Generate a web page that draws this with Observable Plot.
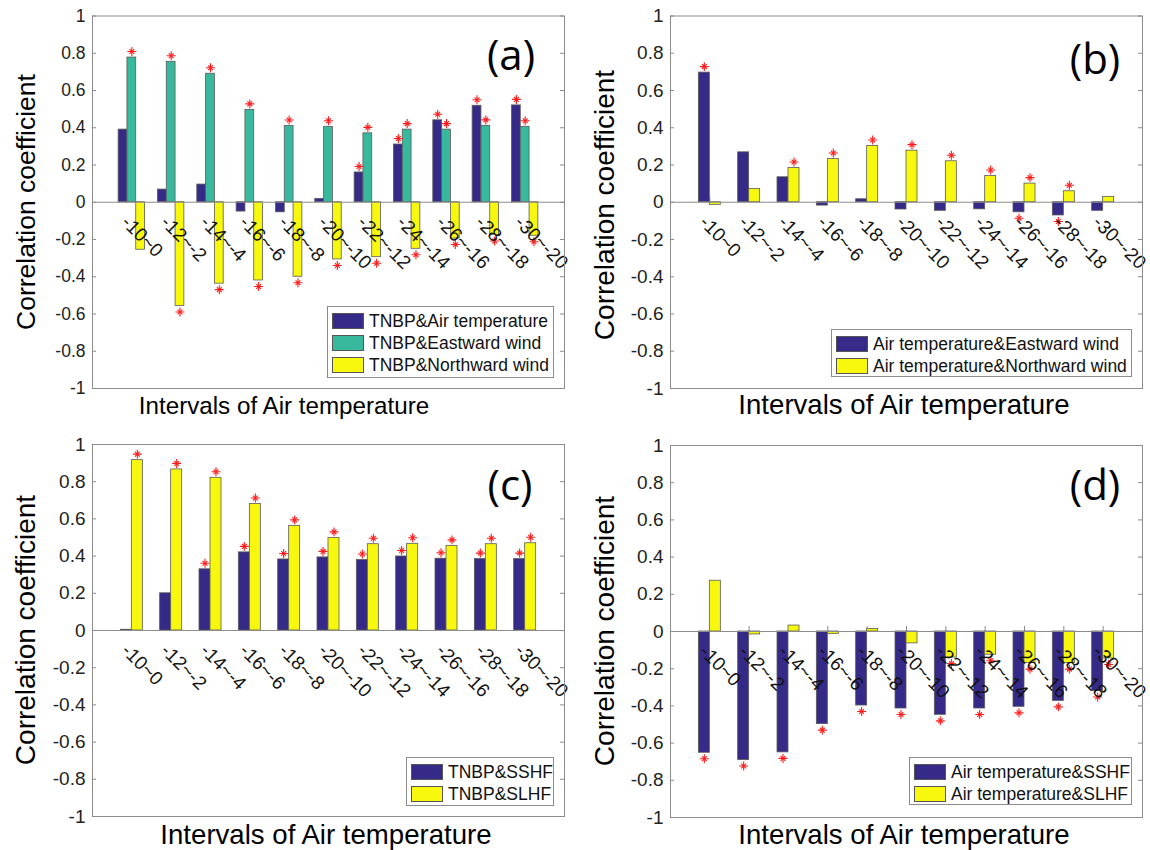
<!DOCTYPE html>
<html><head><meta charset="utf-8">
<script src="https://cdn.jsdelivr.net/npm/d3@7"></script>
<script src="https://cdn.jsdelivr.net/npm/@observablehq/plot@0.6"></script>
<style>
body{margin:0;background:#fff;font-family:"Liberation Sans",Arial,Helvetica,sans-serif;}
#wrap{position:relative;width:1150px;height:850px;overflow:hidden;background:#fff;}
.panel{position:absolute;}
.lbl{position:absolute;white-space:nowrap;color:#000;line-height:1;}
.legend{position:absolute;border:1px solid #8c8c8c;background:#fff;box-sizing:border-box;padding:3px 0 0 4px;}
.row{display:flex;align-items:center;height:22px;}
.sw{width:32px;height:16px;border:1px solid #555;box-sizing:border-box;flex:none;}
.lt{margin-left:5px;font-size:17.5px;color:#111;white-space:nowrap;}
.letter{position:absolute;font-family:"Open Sans","Liberation Sans",sans-serif;font-size:42px;color:#000;line-height:1;}
</style></head><body><div id="wrap"></div>
<script>
// ---- data ----
const intervals = ["-10~0","-12~-2","-14~-4","-16~-6","-18~-8","-20~-10","-22~-12","-24~-14","-26~-16","-28~-18","-30~-20"];
const yTicks = [-1,-0.8,-0.6,-0.4,-0.2,0,0.2,0.4,0.6,0.8,1];

// (a)
const aNames = ["TNBP&Air temperature","TNBP&Eastward wind","TNBP&Northward wind"];
const aAirTemp   = [0.39, 0.068, 0.095, -0.05, -0.054, 0.018, 0.16, 0.31, 0.44, 0.518, 0.52];
const aEastward  = [0.777, 0.754, 0.69, 0.496, 0.409, 0.405, 0.37, 0.39, 0.39, 0.41, 0.405];
const aNorthward = [-0.255, -0.557, -0.437, -0.42, -0.40, -0.307, -0.295, -0.25, -0.195, -0.176, -0.18];
const aSigAirTemp   = [0,0,0,0,0,0,1,1,1,1,1];
const aSigEastward  = [1,1,1,1,1,1,1,1,1,1,1];
const aSigNorthward = [0,1,1,1,1,1,1,1,1,1,1];

// (b)
const bNames = ["Air temperature&Eastward wind","Air temperature&Northward wind"];
const bEastward  = [0.696, 0.268, 0.134, -0.018, 0.016, -0.039, -0.046, -0.038, -0.054, -0.071, -0.046];
const bNorthward = [-0.014, 0.071, 0.184, 0.232, 0.302, 0.277, 0.22, 0.141, 0.1, 0.059, 0.029];
const bSigEastward  = [1,0,0,0,0,0,0,0,1,1,0];
const bSigNorthward = [0,0,1,1,1,1,1,1,1,1,0];

// (c)
const cNames = ["TNBP&SSHF","TNBP&SLHF"];
const cSSHF = [0.004, 0.2, 0.329, 0.42, 0.382, 0.393, 0.379, 0.398, 0.386, 0.384, 0.384];
const cSLHF = [0.916, 0.866, 0.821, 0.68, 0.5625, 0.498, 0.464, 0.466, 0.455, 0.464, 0.469];
const cSigSSHF = [0,0,1,1,1,1,1,1,1,1,1];
const cSigSLHF = [1,1,1,1,1,1,1,1,1,1,1];

// (d)
const dNames = ["Air temperature&SSHF","Air temperature&SLHF"];
const dSSHF = [-0.652, -0.691, -0.65, -0.498, -0.398, -0.414, -0.448, -0.414, -0.405, -0.373, -0.32];
const dSLHF = [0.273, -0.016, 0.032, -0.0125, 0.014, -0.064, -0.14, -0.125, -0.17, -0.17, -0.145];
const dSigSSHF = [1,1,1,1,1,1,1,1,1,1,1];
const dSigSLHF = [0,0,0,0,0,0,1,1,1,1,1];

const navy = "#352A87", teal = "#38B99E", yellow = "#F7F80E";
const axisGray = "#8c8c8c";
const FONT = "Liberation Sans, Arial, Helvetica, sans-serif";

const wrap = document.getElementById("wrap");

function makePanel(cfg) {
  const W = 575, H = 425;
  const {values, sigs, colors, ml, mr, mt, mb, yFont, xFont} = cfg;
  const plotW = W - ml - mr;
  const step = plotW / 12;
  const n = values.length;
  const bw = n === 3 ? 8.8 : 11;
  const inset = (step - bw) / 2;
  const rows = intervals.map((c, i) => {
    const r = {cat: c};
    values.forEach((v, j) => { r["v" + j] = v[i]; r["s" + j] = sigs[j][i]; });
    return r;
  });
  const marks = [
    Plot.ruleY(yTicks, {stroke: axisGray, insetRight: plotW - 4}),
    Plot.ruleY(yTicks, {stroke: axisGray, insetLeft: plotW - 4}),
    Plot.axisY({ticks: yTicks, tickSize: 0, tickPadding: 7, label: null,
      tickFormat: d => String(Math.round(d * 10) / 10), fontSize: yFont, fill: "#222"}),
    Plot.ruleX(intervals, {x: d => d, y1: () => 0, y2: () => 0, insetBottom: 5, stroke: axisGray})
  ];
  values.forEach((v, j) => {
    const off = (j - (n - 1) / 2) * bw;
    marks.push(Plot.barY(rows, {x: "cat", y: "v" + j, fill: colors[j], stroke: "#5a5a5a",
      strokeWidth: 0.8, insetLeft: inset, insetRight: inset, dx: off}));
  });
  marks.push(Plot.ruleY([0], {stroke: axisGray}));
  values.forEach((v, j) => {
    const off = (j - (n - 1) / 2) * bw;
    const pos = rows.filter(r => r["s" + j] && r["v" + j] >= 0);
    const neg = rows.filter(r => r["s" + j] && r["v" + j] < 0);
    for (const [dat, dy] of [[pos, -6], [neg, 6]]) {
      marks.push(Plot.dot(dat, {x: "cat", y: "v" + j, dx: off, dy, symbol: "plus", r: 3, stroke: "#ff1a1a", strokeWidth: 1.1}));
      marks.push(Plot.dot(dat, {x: "cat", y: "v" + j, dx: off, dy, symbol: "times", r: 2.3, stroke: "#ff1a1a", strokeWidth: 1.1}));
    }
  });
  marks.push(Plot.text(intervals, {x: d => d, y: () => 0, text: d => d, rotate: 45, textAnchor: "start",
    dx: -7, dy: 17, fontSize: xFont, fill: "#111", fontFamily: FONT}));
  marks.push(Plot.frame({stroke: axisGray}));
  const svg = Plot.plot({
    width: W, height: H,
    marginLeft: ml, marginRight: mr, marginTop: mt, marginBottom: mb,
    style: {fontFamily: FONT, background: "transparent", overflow: "visible"},
    x: {type: "band", domain: intervals, paddingInner: 0, paddingOuter: 0.5, round: false, axis: null},
    y: {domain: [-1, 1], axis: null},
    marks
  });
  const holder = document.createElement("div");
  holder.className = "panel";
  holder.style.left = cfg.left + "px";
  holder.style.top = cfg.top + "px";
  holder.appendChild(svg);
  wrap.appendChild(holder);
}

function addLabel(text, style) {
  const d = document.createElement("div");
  d.className = "lbl";
  d.textContent = text;
  Object.assign(d.style, style);
  wrap.appendChild(d);
  return d;
}

function addLegend(names, colors, box) {
  const d = document.createElement("div");
  d.className = "legend";
  Object.assign(d.style, {left: box[0] + "px", top: box[1] + "px", width: box[2] + "px", height: box[3] + "px"});
  names.forEach((nm, i) => {
    const r = document.createElement("div");
    r.className = "row";
    const s = document.createElement("div");
    s.className = "sw"; s.style.background = colors[i];
    const t = document.createElement("div");
    t.className = "lt"; t.textContent = nm;
    r.appendChild(s); r.appendChild(t);
    d.appendChild(r);
  });
  wrap.appendChild(d);
}

function addYLabel(cx, cy, size) {
  addLabel("Correlation coefficient", {left: cx + "px", top: cy + "px", fontSize: size + "px",
    transform: "translate(-50%,-50%) rotate(-90deg)"});
}
function addXLabel(cx, baseline, size) {
  addLabel("Intervals of Air temperature", {left: cx + "px", top: (baseline - 0.8 * size) + "px", fontSize: size + "px",
    transform: "translateX(-50%)"});
}
function addLetter(t, cx, baseline) {
  const d = document.createElement("div");
  d.className = "letter"; d.textContent = t;
  Object.assign(d.style, {left: cx + "px", top: (baseline - 0.8 * 42) + "px", transform: "translateX(-50%)"});
  wrap.appendChild(d);
}

// panels
makePanel({values: [aAirTemp, aEastward, aNorthward], sigs: [aSigAirTemp, aSigEastward, aSigNorthward],
  colors: [navy, teal, yellow], left: 0, top: 0, ml: 92, mr: 11, mt: 15.5, mb: 37, yFont: 17.5, xFont: 19});
makePanel({values: [bEastward, bNorthward], sigs: [bSigEastward, bSigNorthward],
  colors: [navy, yellow], left: 575, top: 0, ml: 95, mr: 8, mt: 15.5, mb: 37, yFont: 19, xFont: 19});
makePanel({values: [cSSHF, cSLHF], sigs: [cSigSSHF, cSigSLHF],
  colors: [navy, yellow], left: 0, top: 425, ml: 92, mr: 11, mt: 19, mb: 34, yFont: 19, xFont: 19});
makePanel({values: [dSSHF, dSLHF], sigs: [dSigSSHF, dSigSLHF],
  colors: [navy, yellow], left: 575, top: 425, ml: 95, mr: 8, mt: 20, mb: 33, yFont: 19, xFont: 19});

addYLabel(26, 202, 26.5);
addYLabel(605, 205, 28);
addYLabel(26, 630, 28);
addYLabel(605, 631, 28);

addXLabel(284, 413, 24.2);
addXLabel(904, 413, 27.6);
addXLabel(326, 843, 27.6);
addXLabel(904, 843, 27.6);

addLetter("(a)", 511, 67);
addLetter("(b)", 1095, 71);
addLetter("(c)", 510, 497);
addLetter("(d)", 1095, 497);

addLegend(aNames, [navy, teal, yellow], [327, 306, 227, 72]);
addLegend(bNames, [navy, yellow], [831, 329, 301, 48]);
addLegend(cNames, [navy, yellow], [406, 757, 148, 49]);
addLegend(dNames, [navy, yellow], [909, 757, 223, 48]);
</script></body></html>
